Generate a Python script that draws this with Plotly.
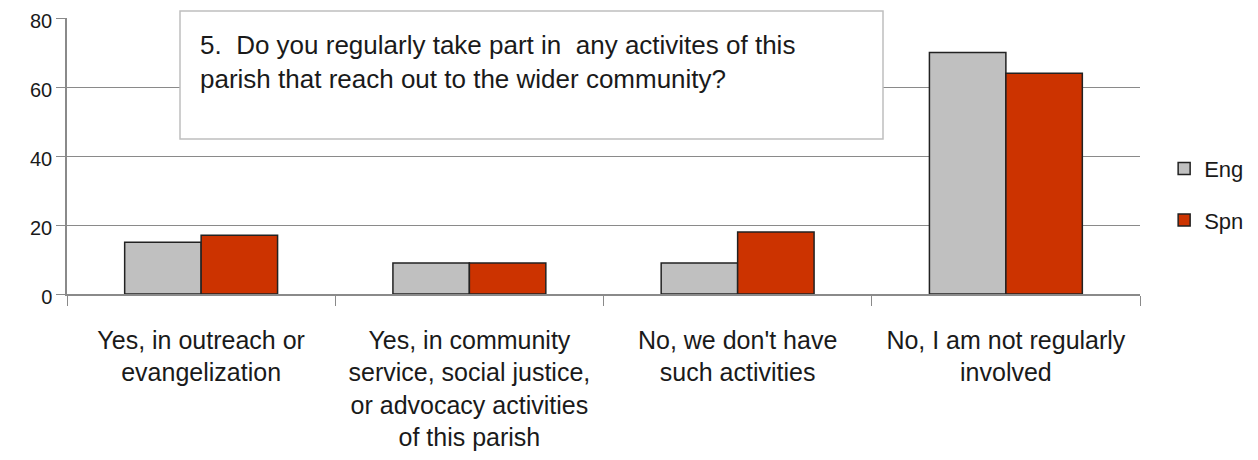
import plotly.graph_objects as go

categories = [
    "Yes, in outreach or<br>evangelization",
    "Yes, in community<br>service, social justice,<br>or advocacy activities<br>of this parish",
    "No, we don't have<br>such activities",
    "No, I am not regularly<br>involved",
]
eng = [15, 9, 9, 70]
spn = [17, 9, 18, 64]
title_text = "5.  Do you regularly take part in  any activites of this<br>parish that reach out to the wider community?"

FONT = "Liberation Sans, Arial, sans-serif"
TXT = "#1a1a1a"
GRID = "#8a8a8a"

fig = go.Figure()
fig.add_trace(go.Bar(name="Eng", x=categories, y=eng, legendgroup="a",
                     marker=dict(color="#c0c0c0", line=dict(color="#222222", width=1.5))))
fig.add_trace(go.Bar(name="Spn", x=categories, y=spn, legendgroup="b",
                     marker=dict(color="#cc3300", line=dict(color="#222222", width=1.5))))

# page body has an 8px margin; figure coordinates are offset accordingly
W, H = 1242, 444
L, T, R, B = 59, 10, 110, 158

fig.update_layout(
    width=W, height=H,
    margin=dict(l=L, r=R, t=T, b=B, autoexpand=False),
    paper_bgcolor="white", plot_bgcolor="white",
    barmode="group", bargap=0.43, bargroupgap=0,
    font=dict(family=FONT, color=TXT, size=20),
    showlegend=True,
    legend=dict(x=1.0225, y=0.36, xanchor="left", yanchor="middle",
                font=dict(size=22, color=TXT), tracegroupgap=20, itemwidth=30),
    xaxis=dict(type="category", tickson="boundaries", ticks="outside", ticklen=10,
               tickcolor=GRID, showline=True, linecolor=GRID, linewidth=1.5,
               showgrid=False, automargin=False, ticklabelstandoff=23,
               tickfont=dict(size=25, color=TXT)),
    yaxis=dict(range=[0, 80.02], tickvals=[0, 20, 40, 60, 80], ticks="outside", ticklen=9,
               tickcolor=GRID, showline=True, linecolor=GRID, linewidth=1.5, automargin=False,
               ticklabeloverflow="allow", ticklabelshift=3,
               showgrid=True, gridcolor=GRID, gridwidth=1.2, zeroline=False,
               tickfont=dict(size=20, color=TXT)),
    shapes=[dict(type="rect", xref="paper", yref="paper",
                 x0=(180 - 67) / 1073, x1=(883 - 67) / 1073,
                 y0=(294 - 139) / 276, y1=(294 - 11) / 276,
                 fillcolor="white", line=dict(color="#bfbfbf", width=1.5), layer="above")],
    annotations=[dict(text=title_text, xref="paper", yref="paper",
                      x=(198 - 67) / 1073, y=(294 - 28) / 276, xanchor="left", yanchor="top",
                      align="left", showarrow=False, font=dict(size=26, color=TXT))],
)

fig.write_html("out.html")
